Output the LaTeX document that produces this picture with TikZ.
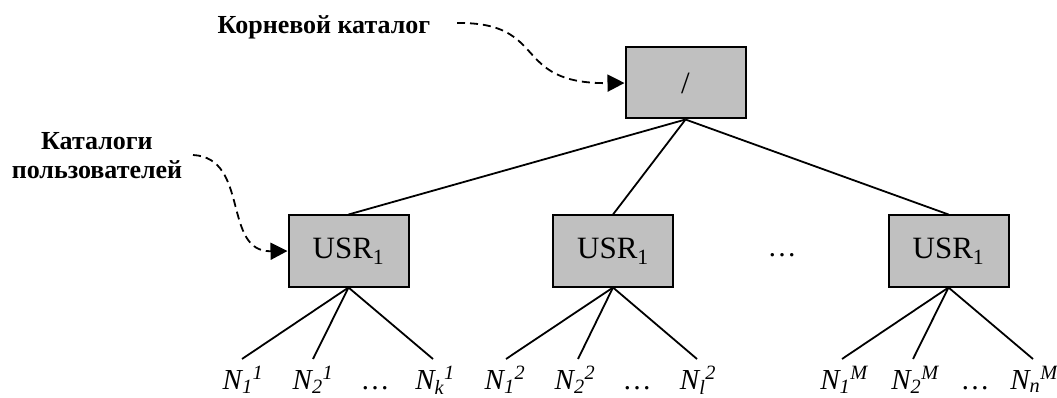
\documentclass[tikz,border=0pt]{standalone}
\usepackage{fontspec}
\setmainfont{Liberation Serif}
\usetikzlibrary{arrows.meta}
\begin{document}
\begin{tikzpicture}[x=1pt,y=-1pt,
  dirbox/.style={draw=black,line width=2pt,fill={rgb,255:red,192;green,192;blue,192},minimum width=120pt,minimum height=71pt,inner sep=0pt,font=\fontsize{31}{31}\selectfont},
  tline/.style={line width=1.8pt},
  leaf/.style={anchor=base,inner sep=0pt,font=\fontsize{29}{29}\selectfont\itshape},
  callout/.style={font=\fontsize{26}{29}\selectfont\bfseries,align=center},
  pointer/.style={dashed,dash pattern=on 8pt off 5pt,line width=1.8pt,-{Triangle[length=17pt,width=17pt]}}
]
\useasboundingbox (0,0) rectangle (1057,398);
% boxes
\node[dirbox] (root) at (685.5,83) {/};
\node[dirbox] (u1) at (348.5,251) {USR\textsubscript{1}};
\node[dirbox] (u2) at (613,251) {USR\textsubscript{1}};
\node[dirbox] (u3) at (948.5,251) {USR\textsubscript{1}};
\node[font=\fontsize{29}{29}\selectfont] (gap) at (782,255) {\dots};
% labels
\node[callout] (lroot) at (324,27) {Корневой каталог};
\node[callout] (lusr) at (97,156) {Каталоги\\пользователей};
% tree lines
\draw[tline] (root.south) -- (u1.north);
\draw[tline] (root.south) -- (u2.north);
\draw[tline] (root.south) -- (u3.north);
% leaf end points
\coordinate (e11) at (242,359);
\coordinate (e12) at (313,359);
\coordinate (e1k) at (433,359);
\coordinate (e21) at (506,359);
\coordinate (e22) at (578,359);
\coordinate (e2l) at (697,359);
\coordinate (e31) at (842,359);
\coordinate (e32) at (913,359);
\coordinate (e3n) at (1033,359);
\foreach \e in {e11,e12,e1k} \draw[tline] (u1.south) -- (\e);
\foreach \e in {e21,e22,e2l} \draw[tline] (u2.south) -- (\e);
\foreach \e in {e31,e32,e3n} \draw[tline] (u3.south) -- (\e);
% leaf labels
\node[leaf] (n11) at (243,389) {N\textsubscript{1}\textsuperscript{1}};
\node[leaf] (n12) at (313,389) {N\textsubscript{2}\textsuperscript{1}};
\node[leaf,font=\fontsize{29}{29}\selectfont] (d1) at (375,389) {\dots};
\node[leaf] (n1k) at (435,389) {N\textsubscript{k}\textsuperscript{1}};
\node[leaf] (n21) at (505,389) {N\textsubscript{1}\textsuperscript{2}};
\node[leaf] (n22) at (575,389) {N\textsubscript{2}\textsuperscript{2}};
\node[leaf,font=\fontsize{29}{29}\selectfont] (d2) at (637,389) {\dots};
\node[leaf] (n2l) at (698,389) {N\textsubscript{l}\textsuperscript{2}};
\node[leaf] (n31) at (844,389) {N\textsubscript{1}\textsuperscript{M}};
\node[leaf] (n32) at (915,389) {N\textsubscript{2}\textsuperscript{M}};
\node[leaf,font=\fontsize{29}{29}\selectfont] (d3) at (975,389) {\dots};
\node[leaf] (n3n) at (1034,389) {N\textsubscript{n}\textsuperscript{M}};
% dashed pointers
\coordinate (s1) at (457,23);
\coordinate (s2) at (193,155);
\draw[pointer] (s1) .. controls (550,22) and (510,84) .. (root.west);
\draw[pointer] (s2) .. controls (250,158) and (222,252) .. (u1.west);
\end{tikzpicture}
\end{document}
